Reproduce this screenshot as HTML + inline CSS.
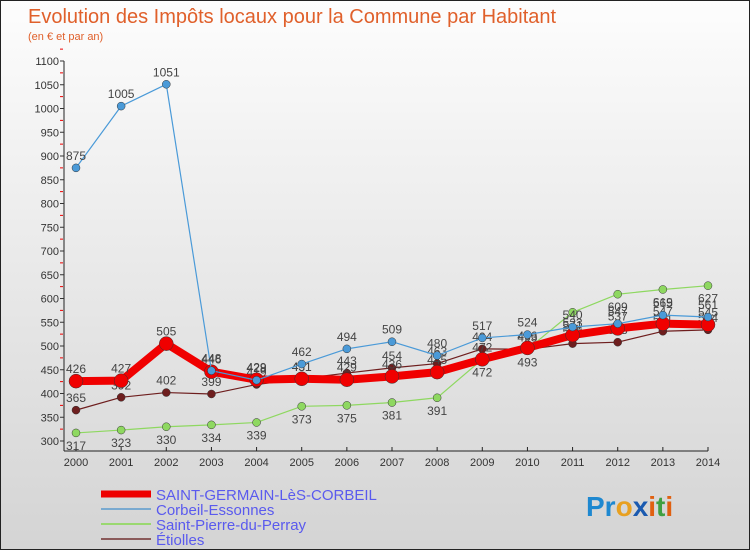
<!DOCTYPE html>
<html><head><meta charset="utf-8"><style>
body{margin:0}
#c{width:750px;height:550px;position:relative;background:linear-gradient(#fdfdfd,#d4d4d4);font-family:"Liberation Sans",sans-serif;box-sizing:border-box;border:1px solid #222;overflow:hidden}
svg{position:absolute;left:0;top:0}
</style></head><body>
<div id="c">
<svg id="s" width="750" height="550">
<text x="27" y="22" font-size="20" fill="#e0602b">Evolution des Impôts locaux pour la Commune par Habitant</text>
<text x="27" y="39" font-size="11" fill="#e0602b">(en € et par an)</text>
<g id="axes"></g><g id="series"></g><g id="legend"></g>
<text x="585" y="515" font-size="28" font-weight="bold"><tspan fill="#1e88d0">Pr</tspan><tspan fill="#e8a020">o</tspan><tspan fill="#1a5ab0">x</tspan><tspan fill="#e06010">i</tspan><tspan fill="#40a040">t</tspan><tspan fill="#e06010">i</tspan></text>
</svg>
</div>
<script>
const years=[2000,2001,2002,2003,2004,2005,2006,2007,2008,2009,2010,2011,2012,2013,2014];
const yTicks=[300,350,400,450,500,550,600,650,700,750,800,850,900,950,1000,1050,1100];
const sgValues=[426,427,505,446,429,431,429,436,445,472,496,523,537,547,545];
const corbeilValues=[875,1005,1051,448,428,462,494,509,480,517,524,540,547,565,561];
const spValues=[317,323,330,334,339,373,375,381,391,472,493,571,609,619,627];
const etiollesValues=[365,392,402,399,419,431,443,454,463,494,493,505,508,531,534];
const ns="http://www.w3.org/2000/svg";
const x=i=>75+i*(632/14);
const y=v=>440-(v-300)*0.475;
function mk(t,a,p){const e=document.createElementNS(ns,t);for(const k in a)e.setAttribute(k,a[k]);p.appendChild(e);return e;}
const ax=document.getElementById('axes');
let l=mk('line',{x1:63,y1:450,x2:707,y2:450,stroke:'#222','stroke-width':1},ax);


l=mk('line',{x1:63,y1:60,x2:63,y2:450,stroke:'#222','stroke-width':1},ax);


yTicks.forEach(v=>{
 const t=mk('text',{x:58,y:y(v)+4,'font-size':11,fill:'#333','text-anchor':'end'},ax);t.textContent=v;
 
 
 const m=mk('line',{x1:59,y1:y(v),x2:63,y2:y(v),stroke:'#333'},ax);
 
 
 const r=mk('line',{x1:59,y1:y(v+25),x2:62,y2:y(v+25),stroke:'#e00'},ax);
 
 
});
years.forEach((yr,i)=>{
 const m=mk('line',{x1:x(i),y1:446,x2:x(i),y2:450,stroke:'#222'},ax);
 
 
 const t=mk('text',{x:x(i),y:465,'font-size':11,fill:'#333','text-anchor':'middle'},ax);t.textContent=yr;
 
 
});
const sg=document.getElementById('series');
function series(vals,color,w,r,name,below){
 const g=mk('g',{},sg);
 
 
 const p=mk('polyline',{points:vals.map((v,i)=>x(i)+','+y(v)).join(' '),fill:'none',stroke:color,'stroke-width':w,'stroke-linejoin':'round'},g);
 
 
 vals.forEach((v,i)=>{
  const c=mk('circle',{cx:x(i),cy:y(v),r:r,fill:color,stroke:'#333','stroke-width':0.5},g);
  
  
  const t=mk('text',{x:x(i),y:below?y(v)+17:y(v)-8,'font-size':12,fill:'#444','text-anchor':'middle'},g);t.textContent=v;
  
  
 });
}
series(spValues,'#8ed860',1.2,4,'saint-pierre-series',true);
series(etiollesValues,'#6e1e1e',1.2,4,'etiolles-series',false);
series(sgValues,'#f00000',8,7,'saint-germain-series',false);
series(corbeilValues,'#4a9ad8',1.2,4,'corbeil-series',false);
const lg=document.getElementById('legend');
[['SAINT-GERMAIN-LèS-CORBEIL','#ee0000',7],['Corbeil-Essonnes','#7aaad0',2],['Saint-Pierre-du-Perray','#9ad870',2],['Étiolles','#8a5a5a',2]].forEach((e,i)=>{
 const yy=493+i*15;
 const g=mk('g',{},lg);
 
 
 mk('line',{x1:100,y1:yy,x2:150,y2:yy,stroke:e[1],'stroke-width':e[2]},g);
 const t=mk('text',{x:155,y:yy+6,'font-size':15,fill:'#5a5aee'},g);t.textContent=e[0];
});
</script>
</body></html>
